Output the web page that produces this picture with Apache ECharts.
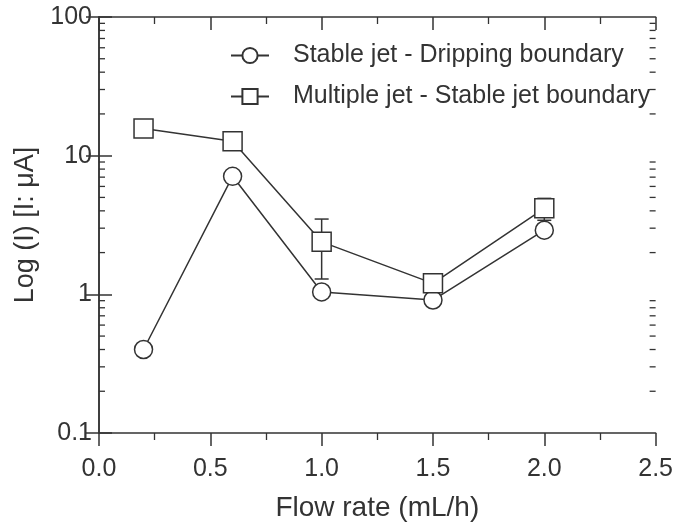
<!DOCTYPE html>
<html>
<head>
<meta charset="utf-8">
<script src="https://cdn.jsdelivr.net/npm/echarts@6/dist/echarts.min.js"></script>
<style>
  html, body { margin: 0; padding: 0; background: #fff; }
  #main { width: 676px; height: 527px; }
</style>
</head>
<body>
<div id="main"></div>
<script>
// 数据
var flowRates = [0.2, 0.6, 1.0, 1.5, 2.0];
var stableDripping = [0.40, 7.1, 1.04, 0.91, 2.9];
var multipleStable = [15.7, 12.7, 2.39, 1.2, 4.17];
var multipleErr = [0, 1.2, 1.1, 0.2, 0.75];
var seriesNames = ['Stable jet - Dripping boundary', 'Multiple jet - Stable jet boundary'];
var yTickLabels = ['0.1', '1', '10', '100'];

// 对数轴的次刻度 (2..9 每个十年)
var decades = [0.1, 1, 10];
var minorMult = [2, 3, 4, 5, 6, 7, 8, 9];
var minorTicks = [];
decades.forEach(function (d) {
  minorMult.forEach(function (m) { minorTicks.push([0, +(d * m).toPrecision(3)]); });
});

var ink = '#333';
var font = 'Liberation Sans, Arial, sans-serif';

var myChart = echarts.init(document.getElementById('main'));

function renderMinorTick(params, api) {
  var cs = params.coordSys;
  var y = api.coord([0, api.value(1)])[1];
  var len = 6;
  return {
    type: 'group',
    children: [
      { type: 'line', shape: { x1: cs.x, y1: y, x2: cs.x + len, y2: y }, style: { stroke: ink, lineWidth: 1.3 } },
      { type: 'line', shape: { x1: cs.x + cs.width - len, y1: y, x2: cs.x + cs.width, y2: y }, style: { stroke: ink, lineWidth: 1.3 } }
    ]
  };
}

function renderErrorBar(params, api) {
  var x = api.value(0), y = api.value(1), e = api.value(2);
  if (!e) return;
  var top = api.coord([x, y + e]);
  var bot = api.coord([x, y - e]);
  var hw = 7;
  var st = { stroke: ink, lineWidth: 1.5 };
  return {
    type: 'group',
    children: [
      { type: 'line', shape: { x1: top[0], y1: top[1], x2: bot[0], y2: bot[1] }, style: st },
      { type: 'line', shape: { x1: top[0] - hw, y1: top[1], x2: top[0] + hw, y2: top[1] }, style: st },
      { type: 'line', shape: { x1: bot[0] - hw, y1: bot[1], x2: bot[0] + hw, y2: bot[1] }, style: st }
    ]
  };
}

var errData = flowRates.map(function (x, i) { return [x, multipleStable[i], multipleErr[i]]; });

var option = {
  animation: false,
  backgroundColor: '#fff',
  textStyle: { fontFamily: font },
  grid: { left: 99, right: 20, top: 17, bottom: 94 },
  legend: {
    orient: 'vertical',
    left: 225,
    top: 38,
    itemWidth: 38,
    itemHeight: 19,
    itemGap: 16,
    data: seriesNames,
    textStyle: { fontSize: 25, color: ink, fontFamily: font, lineHeight: 25, padding: [0, 0, 0, 19] }
  },
  xAxis: [{
    type: 'value',
    min: 0, max: 2.5, interval: 0.5,
    name: 'Flow rate (mL/h)',
    nameLocation: 'middle',
    nameGap: 61,
    nameTextStyle: { fontSize: 28, color: ink, fontFamily: font },
    axisLine: { show: true, lineStyle: { color: ink, width: 1.5 } },
    axisTick: { show: true, inside: false, length: 13, lineStyle: { color: ink, width: 1.5 } },
    minorTick: { show: true, splitNumber: 2, length: 7, lineStyle: { color: ink, width: 1.3 } },
    axisLabel: { fontSize: 25, color: ink, margin: 24, formatter: function (v) { return v.toFixed(1); } },
    splitLine: { show: false }
  }, {
    type: 'value',
    position: 'top',
    min: 0, max: 2.5, interval: 0.5,
    axisLine: { show: true, lineStyle: { color: ink, width: 1.5 } },
    axisTick: { show: true, inside: true, length: 13, lineStyle: { color: ink, width: 1.5 } },
    minorTick: { show: true, splitNumber: 2, length: 7, lineStyle: { color: ink, width: 1.3 } },
    axisLabel: { show: false },
    splitLine: { show: false }
  }],
  yAxis: [{
    type: 'log',
    logBase: 10,
    min: 0.1, max: 100,
    name: 'Log (I) [I: μA]',
    nameLocation: 'middle',
    nameGap: 53,
    nameTextStyle: { fontSize: 27, color: ink, fontFamily: font },
    axisLine: { show: true, lineStyle: { color: ink, width: 1.5 } },
    axisTick: { show: true, inside: true, length: 13, lineStyle: { color: ink, width: 1.5 } },
    axisLabel: {
      fontSize: 25, color: ink, margin: 7,
      formatter: function (v) { var s = String(+v.toPrecision(3)); return yTickLabels.indexOf(s) >= 0 ? s : ''; }
    },
    splitLine: { show: false }
  }, {
    type: 'log',
    logBase: 10,
    min: 0.1, max: 100,
    position: 'right',
    axisLine: { show: true, lineStyle: { color: ink, width: 1.5 } },
    axisTick: { show: true, inside: true, length: 13, lineStyle: { color: ink, width: 1.5 } },
    axisLabel: { show: false },
    splitLine: { show: false }
  }],
  series: [{
    type: 'custom',
    renderItem: renderMinorTick,
    data: minorTicks,
    silent: true,
    z: 1
  }, {
    type: 'custom',
    renderItem: renderErrorBar,
    data: errData,
    encode: { x: 0, y: 1 },
    silent: true,
    z: 2
  }, {
    name: seriesNames[0],
    type: 'line',
    data: flowRates.map(function (x, i) { return [x, stableDripping[i]]; }),
    symbol: 'circle',
    symbolSize: 18,
    lineStyle: { color: ink, width: 1.5 },
    itemStyle: { color: '#fff', borderColor: ink, borderWidth: 1.5 },
    z: 3
  }, {
    name: seriesNames[1],
    type: 'line',
    data: flowRates.map(function (x, i) { return [x, multipleStable[i]]; }),
    symbol: 'rect',
    symbolSize: 19,
    lineStyle: { color: ink, width: 1.5 },
    itemStyle: { color: '#fff', borderColor: ink, borderWidth: 1.5 },
    z: 3
  }]
};

myChart.setOption(option);
</script>
</body>
</html>
